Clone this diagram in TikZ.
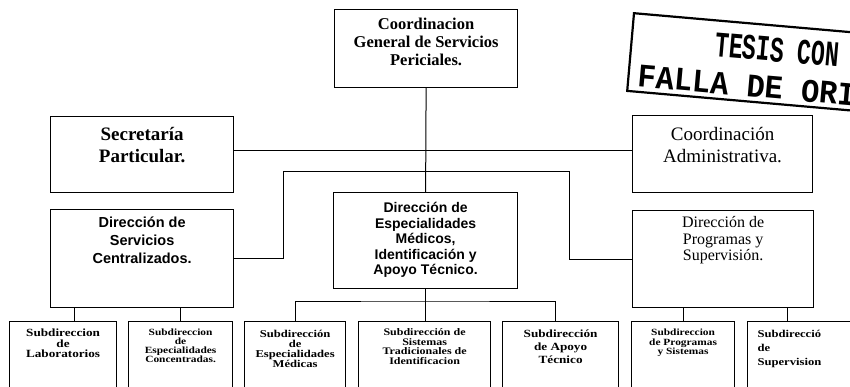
\documentclass[tikz,border=0pt]{standalone}
\usepackage{fontspec}
\setmainfont{Liberation Serif}
\setsansfont{Liberation Sans}
\newfontfamily\subfont[FakeStretch=1.2]{Liberation Serif}
\newfontfamily\stamptop[FakeStretch=0.64]{Liberation Mono}
\newfontfamily\stampbot[FakeStretch=0.92]{Liberation Mono}
\tikzstyle{orgbox} = [draw=black, line width=1.2pt, rectangle, inner sep=0pt, anchor=north west]
\tikzstyle{link} = [draw=black, line width=1pt]
\tikzstyle{stampbox} = [draw=black, line width=2.2pt, rectangle, inner sep=0pt, anchor=north west, rotate=-5]

\begin{document}
\begin{tikzpicture}[x=1pt, y=-1pt]
	\useasboundingbox (0,0) rectangle (850,386);
	\clip (0,0) rectangle (850,386);
	% nivel superior
	\node [orgbox] (cgsp) at (334,9) {%
		\begin{minipage}[t][78pt][t]{183pt}
			\centering\fontsize{16.5}{18}\selectfont\bfseries
			\rule{0pt}{20pt}Coordinacion\\ General de Servicios\\ Periciales.
		\end{minipage}
	};
	\node [orgbox] (sec) at (50,116) {%
		\begin{minipage}[t][76pt][t]{183pt}
			\centering\fontsize{19}{22}\selectfont\bfseries
			\rule{0pt}{24pt}Secretaría\\ Particular.
		\end{minipage}
	};
	\node [orgbox] (adm) at (632,115) {%
		\begin{minipage}[t][77pt][t]{180pt}
			\centering\fontsize{19}{22}\selectfont
			\rule{0pt}{25pt}Coordinación\\ Administrativa.
		\end{minipage}
	};
	% direcciones
	\node [orgbox] (dsc) at (50,209) {%
		\begin{minipage}[t][98pt][t]{183pt}
			\centering\sffamily\fontsize{14.5}{18}\selectfont\bfseries
			\rule{0pt}{18pt}Dirección de\\ Servicios\\ Centralizados.
		\end{minipage}
	};
	\node [orgbox] (dem) at (333,192) {%
		\begin{minipage}[t][96pt][t]{184pt}
			\centering\sffamily\fontsize{14}{15.5}\selectfont\bfseries
			\rule{0pt}{20pt}Dirección de\\ Especialidades\\ Médicos,\\ Identificación y\\ Apoyo Técnico.
		\end{minipage}
	};
	\node [orgbox] (dps) at (632,210) {%
		\begin{minipage}[t][97pt][t]{181pt}
			\centering\fontsize{16}{16.5}\selectfont
			\rule{0pt}{17pt}Dirección de\\ Programas y\\ Supervisión.
		\end{minipage}
	};
	% subdirecciones
	\node [orgbox] (b1) at (9,321) {%
		\begin{minipage}[t][80pt][t]{107pt}
			\centering\subfont\fontsize{11}{10.5}\selectfont\bfseries
			\rule{0pt}{15pt}Subdireccion\\ de\\ Laboratorios
		\end{minipage}
	};
	\node [orgbox] (b2) at (128,321) {%
		\begin{minipage}[t][80pt][t]{104pt}
			\centering\subfont\fontsize{9.5}{9}\selectfont\bfseries
			\rule{0pt}{14pt}Subdireccion\\ de\\ Especialidades\\ Concentradas.
		\end{minipage}
	};
	\node [orgbox] (b3) at (244,321) {%
		\begin{minipage}[t][80pt][t]{101pt}
			\centering\subfont\fontsize{10.5}{9.8}\selectfont\bfseries
			\rule{0pt}{16pt}Subdirección\\ de\\ Especialidades\\ Médicas
		\end{minipage}
	};
	\node [orgbox] (b4) at (358,321) {%
		\begin{minipage}[t][80pt][t]{132pt}
			\centering\subfont\fontsize{10}{9.5}\selectfont\bfseries
			\rule{0pt}{14pt}Subdirección de\\ Sistemas\\ Tradicionales de\\ Identificacion
		\end{minipage}
	};
	\node [orgbox] (b5) at (502,321) {%
		\begin{minipage}[t][80pt][t]{116pt}
			\centering\subfont\fontsize{11}{13}\selectfont\bfseries
			\rule{0pt}{16pt}Subdirección\\ de Apoyo\\ Técnico
		\end{minipage}
	};
	\node [orgbox] (b6) at (631,321) {%
		\begin{minipage}[t][80pt][t]{103pt}
			\centering\subfont\fontsize{9.5}{9.5}\selectfont\bfseries
			\rule{0pt}{14pt}Subdireccion\\ de Programas\\ y Sistemas
		\end{minipage}
	};
	\node [orgbox] (b7) at (747,321) {%
		\begin{minipage}[t][80pt][t]{110pt}
			\raggedright\leftskip=10pt\subfont\fontsize{10.5}{14}\selectfont\bfseries
			\rule{0pt}{16pt}Subdirecció\\ de\\ Supervision
		\end{minipage}
	};
	% sello
	\node [stampbox] (stamp) at (633,12) {%
		\begin{minipage}[t][78pt][t]{292pt}
			\centering\fontsize{33}{37}\selectfont\bfseries
			\rule{0pt}{36pt}{\stamptop\fontsize{36}{37}\selectfont TESIS CON}\\
			{\stampbot FALLA DE ORIGEN}
		\end{minipage}
	};
	% lineas
	\coordinate (hub) at (425,150);
	\coordinate (brl) at (283,171);
	\coordinate (brr) at (569,171);
	\coordinate (demjoin) at (425,301);
	\coordinate (b1top) at ([xshift=65pt]b1.north west);
	\coordinate (b5top) at ([xshift=-5pt]b5.north);
	\coordinate (b7top) at ([xshift=40pt]b7.north west);
	\draw [link] (cgsp.south) -- (dem.north);
	\draw [link] (sec.east |- hub) -- (adm.west |- hub);
	\draw [link] (dsc.east) -| (brl) -- (brr) |- (dps.west);
	\draw [link] (b1top) -- (b1top |- dsc.south);
	\draw [link] (b2.north) -- (b2.north |- dsc.south);
	\draw [link] (dem.south) -- (dem.south |- b4.north);
	\draw [link] (b3.north) |- (demjoin) -| (b5top);
	\draw [link] (b6.north) -- (b6.north |- dps.south);
	\draw [link] (b7top) -- (b7top |- dps.south);
\end{tikzpicture}
\end{document}
